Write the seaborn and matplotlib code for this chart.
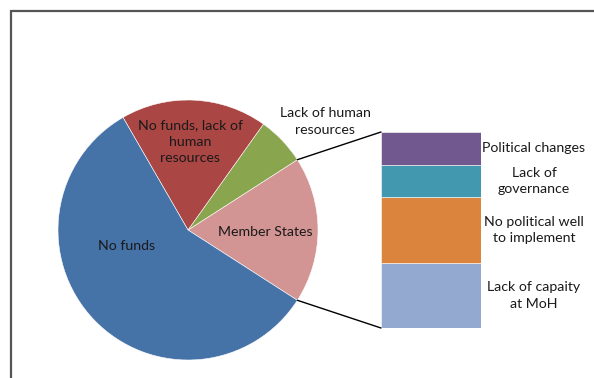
import numpy as np
import matplotlib
matplotlib.use("Agg")
import matplotlib.pyplot as plt
from matplotlib.patches import ConnectionPatch, Rectangle
import seaborn as sns

# ---- data ----
pie_labels = ["Member States", "Lack of human\nresources", "No funds, lack of\nhuman\nresources", "No funds"]
pie_values = [6, 2, 6, 19]
pie_colors = ["#D39594", "#89A54E", "#AA4643", "#4572A7"]

bar_labels = ["Lack of capaity\nat MoH", "No political well\nto implement", "Lack of\ngovernance", "Political changes"]
bar_values = [2, 2, 1, 1]
bar_colors = ["#93A9CF", "#DB843D", "#4198AF", "#71588F"]

sns.set_theme(style="white")
plt.rcParams['font.family'] = ['Lato', 'DejaVu Sans']

W, H = 594, 378
fig = plt.figure(figsize=(W / 100, H / 100), dpi=100)
ax = fig.add_axes([0, 0, 1, 1])
ax.set_xlim(0, W)
ax.set_ylim(0, H)
ax.axis("off")

# frame border (chart area cropped at right/bottom)
ax.add_patch(Rectangle((11, -20), W + 40, H - 11 + 20, fill=False,
                       edgecolor="#555555", lw=1.6, zorder=0))

cx, cy, R = 188, H - 230, 130
total = sum(pie_values)
start = -pie_values[0] / total * 360 / 2
wedges, _ = ax.pie(pie_values, colors=pie_colors, startangle=start, counterclock=True,
                   center=(cx, cy), radius=R, frame=True,
                   wedgeprops=dict(edgecolor="white", linewidth=0.4))
ax.set_xlim(0, W)
ax.set_ylim(0, H)
ax.set_aspect("equal")
ax.axis("off")

fs = 10.2
tc = "#1a1a1a"
ls = 1.45
ax.text(265, H - 232, pie_labels[0], ha="center", va="center", fontsize=fs, color=tc)
ax.text(325, H - 121.5, pie_labels[1], ha="center", va="center", fontsize=fs, color=tc, linespacing=ls)
ax.text(190, H - 142, pie_labels[2], ha="center", va="center", fontsize=fs, color=tc, linespacing=ls)
ax.text(127, H - 246, pie_labels[3], ha="center", va="center", fontsize=fs, color=tc)

# secondary stacked bar
bx0, bx1, by0, by1 = 381, 481, 328, 132
bax = fig.add_axes([bx0 / W, (H - by0) / H, (bx1 - bx0) / W, (by0 - by1) / H])
bottom = 0
for lab, v, c in zip(bar_labels, bar_values, bar_colors):
    bax.bar(0, v, width=1, bottom=bottom, color=c, edgecolor="white", linewidth=0.4)
    bax.text(1.03, bottom + v / 2, lab, ha="center", va="center", fontsize=fs, color=tc,
             transform=bax.transData, linespacing=ls)
    bottom += v
bax.set_xlim(-0.5, 0.5)
bax.set_ylim(0, sum(bar_values))
bax.axis("off")

# connector lines from the "Member States" wedge edge to the bar
ang = np.deg2rad(pie_values[0] / total * 360 / 2)
for sgn, yb in [(1, sum(bar_values)), (-1, 0)]:
    px = cx + R * np.cos(sgn * ang)
    py = cy + R * np.sin(sgn * ang)
    con = ConnectionPatch(xyA=(px, py), coordsA=ax.transData,
                          xyB=(-0.5, yb), coordsB=bax.transData,
                          color="black", lw=1.0)
    fig.add_artist(con)

fig.savefig("out.png", dpi=100, facecolor="white")
